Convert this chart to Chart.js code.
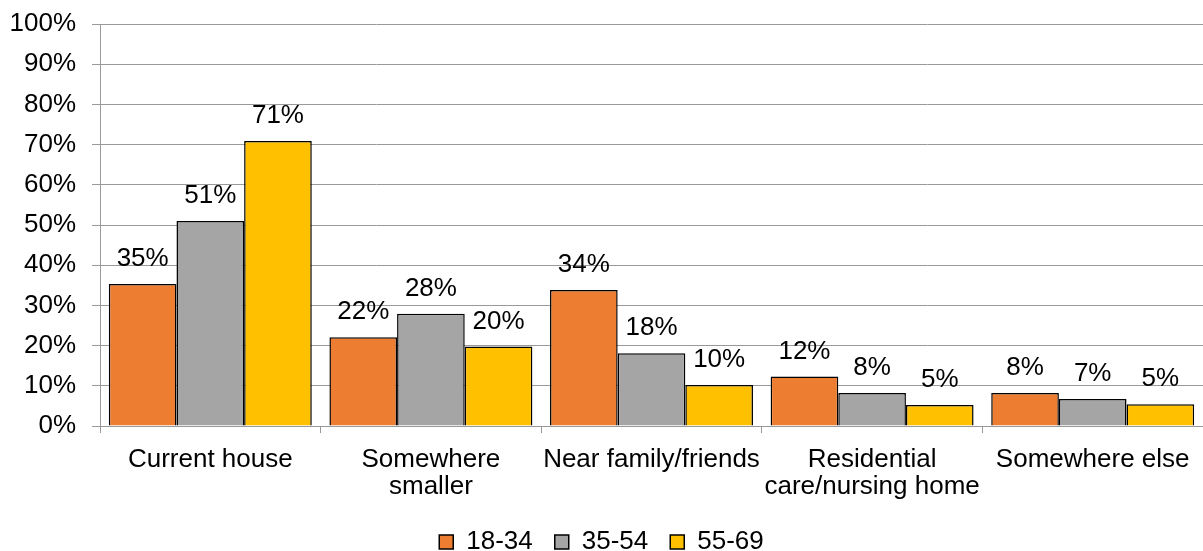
<!DOCTYPE html>
<html>
<head>
<meta charset="utf-8">
<script src="https://cdn.jsdelivr.net/npm/chart.js@4"></script>
<style>
  html, body { margin: 0; padding: 0; background: #fff; }
  #wrap { width: 1203px; height: 551px; }
</style>
</head>
<body>
<div id="wrap"><canvas id="mycanvas" width="1203" height="551"></canvas></div>
<script>
// where people want to live
var places = [
    'Current house',
    ['Somewhere', 'smaller'],
    'Near family/friends',
    ['Residential', 'care/nursing home'],
    'Somewhere else'
];
var age18to34 = [35.3, 22.1, 33.8, 12.3, 8.2];
var age35to54 = [51.0, 27.9, 18.1, 8.2, 6.7];
var age55to69 = [70.9, 19.8, 10.2, 5.2, 5.4];
var yTicks = [0, 10, 20, 30, 40, 50, 60, 70, 80, 90, 100];

Chart.defaults.font.family = '"Liberation Sans", Arial, sans-serif';
Chart.defaults.color = '#000';

// draw the % over each bar
var barLabels = {
    id: 'barLabels',
    afterDatasetsDraw: function (chart) {
        var ctx = chart.ctx;
        ctx.save();
        ctx.font = '26px "Liberation Sans", Arial, sans-serif';
        ctx.fillStyle = '#000';
        ctx.textAlign = 'center';
        ctx.textBaseline = 'middle';
        chart.data.datasets.forEach(function (ds, i) {
            chart.getDatasetMeta(i).data.forEach(function (bar, j) {
                ctx.fillText(Math.round(ds.data[j]) + '%', bar.x, bar.y - 25);
            });
        });
        ctx.restore();
    }
};

var chartdata = {
    labels: places,
    datasets: [
        { label: '18-34', data: age18to34, backgroundColor: '#ED7D31' },
        { label: '35-54', data: age35to54, backgroundColor: '#A5A5A5' },
        { label: '55-69', data: age55to69, backgroundColor: '#FFC000' }
    ]
};
chartdata.datasets.forEach(function (ds) {
    ds.borderColor = '#000';
    ds.borderWidth = 1.5;
    ds.barPercentage = 1;
    ds.categoryPercentage = 0.92;
});

var ctx = document.getElementById('mycanvas');
var barGraph = new Chart(ctx, {
    type: 'bar',
    data: chartdata,
    plugins: [barLabels],
    options: {
        responsive: false,
        animation: false,
        // legend sits right at the bottom edge, like the original
        layout: { padding: { top: 24, right: 0, bottom: -14, left: 0 } },
        plugins: {
            tooltip: { enabled: false },
            legend: {
                position: 'bottom',
                labels: {
                    boxWidth: 14,
                    boxHeight: 14,
                    padding: 22,
                    font: { size: 26 },
                    generateLabels: function (chart) {
                        return chart.data.datasets.map(function (ds, i) {
                            return {
                                text: ds.label,
                                fillStyle: ds.backgroundColor,
                                strokeStyle: '#000',
                                lineWidth: 1.5,
                                datasetIndex: i
                            };
                        });
                    }
                }
            }
        },
        scales: {
            x: {
                afterFit: function (scale) { scale.height = 81; },
                grid: {
                    offset: true,
                    drawOnChartArea: false,
                    color: '#999',
                    tickLength: 7
                },
                border: { color: '#999' },
                ticks: {
                    maxRotation: 0,
                    autoSkip: false,
                    padding: 13,
                    font: { size: 26, lineHeight: 1.04 }
                }
            },
            y: {
                min: 0,
                max: 100,
                afterFit: function (scale) {
                    scale.width = 100;
                    scale.paddingTop = 0;
                    scale.paddingBottom = 0;
                },
                afterBuildTicks: function (scale) {
                    scale.ticks = yTicks.map(function (v) { return { value: v }; });
                },
                grid: { color: '#999', tickLength: 8 },
                border: { color: '#999' },
                ticks: {
                    padding: 16,
                    font: { size: 26 },
                    callback: function (v) { return v + '%'; }
                }
            }
        }
    }
});
</script>
</body>
</html>
